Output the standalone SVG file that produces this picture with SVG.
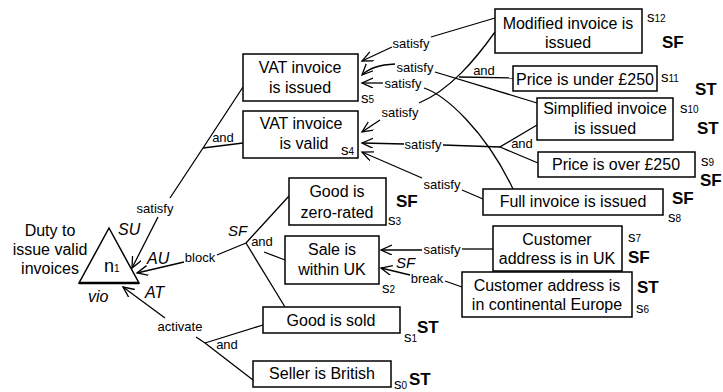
<svg xmlns="http://www.w3.org/2000/svg" width="723" height="392" viewBox="0 0 723 392">
  <defs>
    <marker id="arr" markerUnits="userSpaceOnUse" markerWidth="14" markerHeight="12" refX="11" refY="5" orient="auto">
      <path d="M0,0 L11,5 L0,10" fill="none" stroke="#000" stroke-width="1.3"/>
    </marker>
    <style>
      text { font-family: "Liberation Sans", Arial, Helvetica, sans-serif; fill: #000; }
      .box { fill: #fff; stroke: #000; stroke-width: 1.5; }
      .t { font-size: 16px; text-anchor: middle; }
      .lbl { font-size: 13px; text-anchor: middle; }
      .it { font-size: 16px; font-style: italic; }
      .st { font-size: 17px; font-weight: bold; }
      .s { font-size: 15px; }
      .sub { font-size: 10px; }
      .ln { fill: none; stroke: #000; stroke-width: 1.3; }
      .ar { marker-end: url(#arr); }
    </style>
  </defs>

  <!-- connectors -->
  <g id="connectors">
    <!-- VAT issued AND VAT valid satisfy n1 -->
    <path class="ln" d="M243,87 L203,148 L170,198"/>
    <path class="ln ar" d="M158,217 L132,268"/>
    <path class="ln" d="M203,148 L243,143"/>
    <!-- block -->
    <path class="ln" d="M246,243 L217,255"/>
    <path class="ln ar" d="M184,262 L137,273"/>
    <path class="ln" d="M246,243 L289,196"/>
    <path class="ln" d="M246,243 L285,307"/>
    <path class="ln" d="M264,252 L285,260"/>
    <!-- activate -->
    <path class="ln" d="M205,343 L196,337"/>
    <path class="ln ar" d="M165,318 L123,287"/>
    <path class="ln" d="M205,343 L263,325"/>
    <path class="ln" d="M205,343 L253,380"/>
    <!-- Modified invoice -> VAT issued -->
    <path class="ln" d="M495,18 L431,37"/>
    <path class="ln ar" d="M392,47 L362,61"/>
    <!-- Simplified invoice -> VAT issued -->
    <path class="ln" d="M537,103 L435,72"/>
    <path class="ln ar" d="M395,64 Q372,65 362,75"/>
    <!-- Full invoice -> VAT issued -->
    <path class="ln" d="M513,189 C485,130 445,95 424,88"/>
    <path class="ln ar" d="M383,83 L362,83"/>
    <!-- Modified AND Price under -> VAT valid -->
    <path class="ln" d="M495,32 C475,60 450,90 419,103"/>
    <path class="ln" d="M459,77 L513,78"/>
    <path class="ln ar" d="M380,120 L362,132"/>
    <!-- Simplified AND Price over -> VAT valid -->
    <path class="ln" d="M537,125 L500,147 L538,163"/>
    <path class="ln" d="M500,147 L443,145"/>
    <path class="ln ar" d="M404,144 L362,143"/>
    <!-- Full invoice -> VAT valid -->
    <path class="ln" d="M483,199 L462,190"/>
    <path class="ln ar" d="M422,178 L362,152"/>
    <!-- Customer UK -> Sale -->
    <path class="ln" d="M493,249 L462,249"/>
    <path class="ln ar" d="M422,250 L381,250"/>
    <!-- Customer Europe -> Sale (break) -->
    <path class="ln" d="M462,287 L445,281"/>
    <path class="ln ar" d="M410,275 L381,268"/>

    <!-- connector labels -->
    <text class="lbl" x="155" y="213">satisfy</text>
    <text class="lbl" x="223" y="142">and</text>
    <text class="lbl" x="200" y="262">block</text>
    <text class="lbl" x="262" y="246">and</text>
    <text class="it" x="228" y="236" style="font-size:15px">SF</text>
    <text class="lbl" x="180" y="331">activate</text>
    <text class="lbl" x="227" y="349">and</text>
    <text class="lbl" x="411" y="48">satisfy</text>
    <text class="lbl" x="415" y="72">satisfy</text>
    <text class="lbl" x="403" y="88">satisfy</text>
    <text class="lbl" x="400" y="117">satisfy</text>
    <text class="lbl" x="484" y="75">and</text>
    <text class="lbl" x="423" y="149">satisfy</text>
    <text class="lbl" x="522" y="148">and</text>
    <text class="lbl" x="442" y="189">satisfy</text>
    <text class="lbl" x="442" y="254">satisfy</text>
    <text class="lbl" x="427" y="283">break</text>
    <text class="it" x="396" y="268" style="font-size:15px">SF</text>
  </g>

  <!-- n1: norm triangle -->
  <g id="n1">
    <path d="M109,228 L79,283 L139,283 Z" fill="#fff" stroke="#000" stroke-width="1.5"/>
    <path d="M79,283 L139,283" stroke="#000" stroke-width="2.5"/>
    <text x="104" y="272" style="font-size:18px">n<tspan class="sub">1</tspan></text>
    <text class="t" x="50" y="236">Duty to</text>
    <text class="t" x="50" y="255">issue valid</text>
    <text class="t" x="50" y="274">invoices</text>
    <text class="it" x="118" y="235">SU</text>
    <text class="it" x="147" y="264">AU</text>
    <text class="it" x="145" y="298">AT</text>
    <text class="it" x="88" y="302">vio</text>
  </g>

  <g id="s5">
    <rect class="box" x="243" y="54" width="115" height="47"/>
    <text class="t" x="300" y="73">VAT invoice</text>
    <text class="t" x="300" y="93">is issued</text>
    <text class="s" x="361" y="103">s<tspan class="sub">5</tspan></text>
  </g>

  <g id="s4">
    <rect class="box" x="243" y="111" width="115" height="47"/>
    <text class="t" x="301" y="129">VAT invoice</text>
    <text class="t" x="304" y="149">is valid</text>
    <text class="s" x="341" y="155">s<tspan class="sub">4</tspan></text>
  </g>

  <g id="s12">
    <rect class="box" x="495" y="9" width="147" height="44"/>
    <text class="t" x="568" y="29">Modified invoice is</text>
    <text class="t" x="568" y="48">issued</text>
    <text class="s" x="647" y="22">s<tspan class="sub">12</tspan></text>
    <text class="st" x="662" y="48">SF</text>
  </g>

  <g id="s11">
    <rect class="box" x="513" y="66" width="144" height="25"/>
    <text class="t" x="585" y="85">Price is under £250</text>
    <text class="s" x="661" y="82">s<tspan class="sub">11</tspan></text>
    <text class="st" x="695" y="95">ST</text>
  </g>

  <g id="s10">
    <rect class="box" x="537" y="98" width="136" height="42"/>
    <text class="t" x="605" y="114">Simplified invoice</text>
    <text class="t" x="605" y="134">is issued</text>
    <text class="s" x="680" y="113">s<tspan class="sub">10</tspan></text>
    <text class="st" x="697" y="134">ST</text>
  </g>

  <g id="s9">
    <rect class="box" x="538" y="152" width="157" height="25"/>
    <text class="t" x="616" y="170">Price is over £250</text>
    <text class="s" x="701" y="166">s<tspan class="sub">9</tspan></text>
    <text class="st" x="700" y="186">SF</text>
  </g>

  <g id="s8">
    <rect class="box" x="483" y="189" width="180" height="26"/>
    <text class="t" x="573" y="207">Full invoice is issued</text>
    <text class="st" x="672" y="204">SF</text>
    <text class="s" x="668" y="222">s<tspan class="sub">8</tspan></text>
  </g>

  <g id="s7">
    <rect class="box" x="493" y="226" width="129" height="45"/>
    <text class="t" x="557" y="245">Customer</text>
    <text class="t" x="557" y="264">address is in UK</text>
    <text class="s" x="628" y="242">s<tspan class="sub">7</tspan></text>
    <text class="st" x="628" y="263">SF</text>
  </g>

  <g id="s6">
    <rect class="box" x="462" y="272" width="170" height="45"/>
    <text class="t" x="547" y="291">Customer address is</text>
    <text class="t" x="547" y="310">in continental Europe</text>
    <text class="st" x="637" y="293">ST</text>
    <text class="s" x="636" y="313">s<tspan class="sub">6</tspan></text>
  </g>

  <g id="s3">
    <rect class="box" x="289" y="178" width="97" height="47"/>
    <text class="t" x="337" y="197">Good is</text>
    <text class="t" x="337" y="218">zero-rated</text>
    <text class="st" x="396" y="207">SF</text>
    <text class="s" x="388" y="225">s<tspan class="sub">3</tspan></text>
  </g>

  <g id="s2">
    <rect class="box" x="285" y="236" width="94" height="48"/>
    <text class="t" x="332" y="255">Sale is</text>
    <text class="t" x="332" y="275">within UK</text>
    <text class="s" x="382" y="293">s<tspan class="sub">2</tspan></text>
  </g>

  <g id="s1">
    <rect class="box" x="263" y="307" width="137" height="26"/>
    <text class="t" x="331" y="326">Good is sold</text>
    <text class="s" x="404" y="342">s<tspan class="sub">1</tspan></text>
    <text class="st" x="417" y="333">ST</text>
  </g>

  <g id="s0">
    <rect class="box" x="253" y="361" width="138" height="26"/>
    <text class="t" x="322" y="379">Seller is British</text>
    <text class="s" x="394" y="389">s<tspan class="sub">0</tspan></text>
    <text class="st" x="409" y="385">ST</text>
  </g>
</svg>
